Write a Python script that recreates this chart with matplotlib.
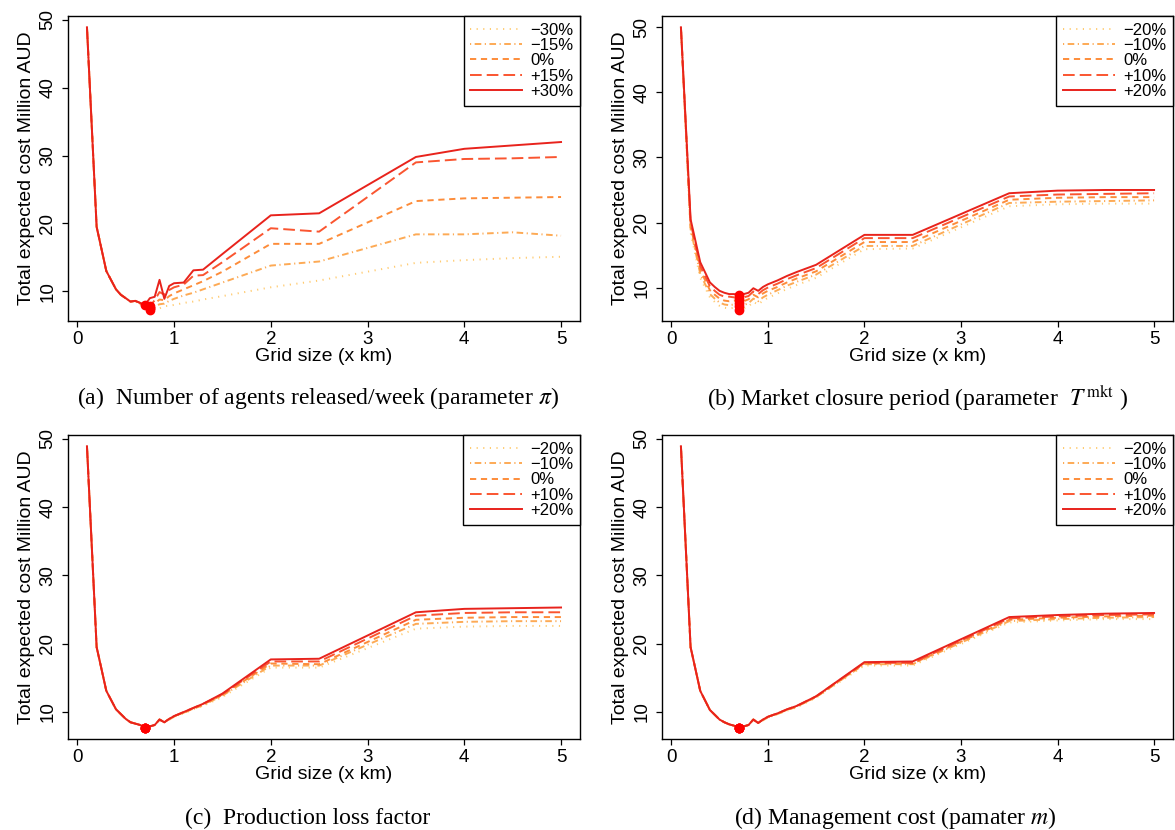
import numpy as np
import matplotlib.pyplot as plt

plt.rcParams['font.family'] = ['Liberation Sans', 'DejaVu Sans']
plt.rcParams['mathtext.fontset'] = 'stix'

## grid sizes (km) used for every panel
grid = [0.1, 0.2, 0.3, 0.4, 0.45, 0.5, 0.55, 0.6, 0.65, 0.7, 0.75, 0.8, 0.85,
        0.9, 0.95, 1.0, 1.1, 1.2, 1.3, 1.5, 2.0, 2.5, 3.5, 4.0, 4.5, 5.0]

## (a) agents released / week
labels_a = ['\u221230%', '\u221215%', '0%', '+15%', '+30%']
a_m30 = [48.9, 19.5, 13.0, 10.3, 9.5, 9.0, 8.5, 8.6, 8.0, 7.4, 7.3, 7.4, 7.5,
         7.8, 7.9, 8.0, 8.3, 8.5, 8.8, 9.3, 10.6, 11.6, 14.2, 14.6, 14.9, 15.1]
a_m15 = [48.9, 19.5, 13.0, 10.3, 9.5, 9.0, 8.5, 8.6, 8.1, 7.7, 7.5, 7.8, 8.1,
         8.2, 8.6, 8.9, 9.4, 9.8, 10.3, 11.3, 13.8, 14.4, 18.4, 18.4, 18.7, 18.2]
a_0 = [48.9, 19.5, 13.0, 10.3, 9.5, 9.0, 8.5, 8.6, 8.2, 7.8, 7.6, 8.2, 8.8,
       8.7, 9.3, 9.7, 10.3, 10.9, 11.5, 12.9, 17.0, 17.0, 23.3, 23.7, 23.8, 23.9]
a_p15 = [48.9, 19.5, 13.0, 10.3, 9.5, 9.0, 8.5, 8.6, 8.3, 7.9, 7.8, 8.7, 9.9,
         9.5, 10.2, 10.6, 11.0, 12.3, 12.4, 14.3, 19.3, 18.8, 29.0, 29.5, 29.6, 29.8]
a_p30 = [48.9, 19.5, 13.0, 10.3, 9.5, 9.0, 8.5, 8.6, 8.3, 8.0, 9.0, 9.2, 11.7,
         8.9, 10.8, 11.2, 11.3, 13.1, 13.2, 15.5, 21.2, 21.5, 29.8, 31.0, 31.5, 32.0]

## (b) market closure period
labels_b = ['\u221220%', '\u221210%', '0%', '+10%', '+20%']
b_m20 = [49.8, 18.5, 11.5, 8.5, 7.8, 7.2, 6.9, 6.8, 6.9, 6.6, 6.8, 7.1, 7.8,
         7.4, 8.0, 8.4, 9.1, 9.8, 10.4, 11.5, 15.9, 16.0, 22.5, 22.8, 22.9, 22.9]
b_m10 = [50.0, 19.0, 12.1, 9.0, 8.3, 7.7, 7.4, 7.3, 7.4, 7.1, 7.3, 7.6, 8.3,
         7.9, 8.5, 8.9, 9.6, 10.3, 10.9, 12.0, 16.4, 16.4, 23.0, 23.2, 23.3, 23.4]
b_0 = [50.0, 19.5, 12.7, 9.6, 8.9, 8.3, 8.0, 7.9, 8.0, 7.7, 7.9, 8.2, 8.9,
       8.5, 9.1, 9.5, 10.1, 10.8, 11.4, 12.5, 17.0, 17.0, 23.5, 23.8, 23.9, 23.9]
b_p10 = [50.0, 20.0, 13.3, 10.2, 9.5, 8.9, 8.6, 8.6, 8.5, 8.3, 8.5, 8.7, 9.4,
         9.0, 9.6, 10.0, 10.6, 11.3, 11.9, 13.0, 17.6, 17.6, 24.0, 24.3, 24.4, 24.5]
b_p20 = [50.0, 20.5, 13.9, 10.8, 10.1, 9.5, 9.2, 9.0, 9.0, 8.9, 9.0, 9.2, 9.9,
         9.5, 10.1, 10.5, 11.1, 11.8, 12.4, 13.5, 18.1, 18.1, 24.5, 24.9, 25.0, 25.0]

## (c) production loss factor
labels_c = labels_b
c_m20 = [48.9, 19.5, 13.1, 10.4, 9.7, 9.0, 8.5, 8.3, 8.1, 7.7, 7.9, 8.1, 8.9,
         8.5, 8.9, 9.3, 9.8, 10.4, 10.9, 12.2, 16.5, 16.5, 22.2, 22.5, 22.6, 22.6]
c_m10 = [48.9, 19.5, 13.1, 10.4, 9.7, 9.0, 8.5, 8.3, 8.1, 7.7, 7.9, 8.1, 8.9,
         8.5, 8.9, 9.3, 9.9, 10.5, 11.0, 12.4, 16.8, 16.8, 22.9, 23.2, 23.3, 23.3]
c_0 = [48.9, 19.5, 13.1, 10.4, 9.7, 9.0, 8.5, 8.3, 8.1, 7.7, 7.9, 8.1, 8.9,
       8.5, 9.0, 9.4, 9.9, 10.5, 11.1, 12.5, 17.1, 17.0, 23.5, 23.8, 23.9, 23.9]
c_p10 = [48.9, 19.5, 13.1, 10.4, 9.7, 9.0, 8.5, 8.3, 8.1, 7.7, 7.9, 8.1, 8.9,
         8.5, 9.0, 9.4, 10.0, 10.6, 11.2, 12.6, 17.4, 17.4, 24.1, 24.5, 24.6, 24.6]
c_p20 = [48.9, 19.5, 13.1, 10.4, 9.7, 9.0, 8.5, 8.3, 8.1, 7.7, 7.9, 8.1, 8.9,
         8.5, 9.0, 9.4, 10.0, 10.6, 11.2, 12.7, 17.7, 17.8, 24.6, 25.1, 25.2, 25.3]

## (d) management cost
labels_d = labels_b
d_m20 = [48.9, 19.5, 13.1, 10.3, 9.6, 8.9, 8.5, 8.2, 8.0, 7.7, 7.9, 8.1, 8.9,
         8.4, 8.8, 9.2, 9.7, 10.2, 10.7, 12.1, 16.8, 16.8, 23.1, 23.4, 23.6, 23.6]
d_m10 = [48.9, 19.5, 13.1, 10.3, 9.6, 8.9, 8.5, 8.2, 8.0, 7.7, 7.9, 8.1, 8.9,
         8.4, 8.8, 9.2, 9.7, 10.3, 10.8, 12.2, 17.0, 17.0, 23.3, 23.6, 23.8, 23.9]
d_0 = [48.9, 19.5, 13.1, 10.3, 9.6, 8.9, 8.5, 8.2, 8.0, 7.7, 7.9, 8.1, 8.9,
       8.4, 8.9, 9.3, 9.8, 10.3, 10.8, 12.2, 17.1, 17.1, 23.5, 23.8, 24.0, 24.1]
d_p10 = [48.9, 19.5, 13.1, 10.3, 9.6, 8.9, 8.5, 8.2, 8.0, 7.7, 7.9, 8.1, 8.9,
         8.4, 8.9, 9.3, 9.8, 10.4, 10.9, 12.3, 17.2, 17.2, 23.7, 24.0, 24.2, 24.3]
d_p20 = [48.9, 19.5, 13.1, 10.3, 9.6, 8.9, 8.5, 8.2, 8.0, 7.7, 7.9, 8.1, 8.9,
         8.4, 8.9, 9.3, 9.8, 10.4, 10.9, 12.3, 17.3, 17.4, 23.9, 24.2, 24.4, 24.5]

captions = ['(a)  Number of agents released/week (parameter $\\pi$)',
            '(b) Market closure period (parameter  $T^{\\,\\mathrm{mkt}}$ )',
            '(c)  Production loss factor',
            '(d) Management cost (pamater $m$)']

## line look, lightest -> red
colors = ['#FFCB70', '#FDAA55', '#FD8C3A', '#FA5530', '#E8231C']
styles = [(0, (0.6, 2.8)), (0, (0.6, 1.8, 3.4, 1.8)), (0, (3.2, 2.4)),
          (0, (6.0, 2.6)), '-']

panels = [([a_m30, a_m15, a_0, a_p15, a_p30], labels_a),
          ([b_m20, b_m10, b_0, b_p10, b_p20], labels_b),
          ([c_m20, c_m10, c_0, c_p10, c_p20], labels_c),
          ([d_m20, d_m10, d_0, d_p10, d_p20], labels_d)]

W, H = 1175, 830
fig = plt.figure(figsize=(W / 100, H / 100), dpi=100)
boxes = [(68, 16, 580, 321), (662, 16, 1173, 321),
         (68, 435, 580, 739), (662, 435, 1173, 739)]
cap_pos = [(318, 398), (918, 398), (308, 818), (895, 818)]

for k, (series, labs) in enumerate(panels):
    l, t, r, b = boxes[k]
    ax = fig.add_axes([l / W, 1 - b / H, (r - l) / W, (b - t) / H])
    for s, lab, c, ls in zip(series, labs, colors, styles):
        ax.plot(grid, s, color=c, linestyle=ls, lw=1.4, label=lab)
    ## red dot at the minimum of each curve
    for s in series:
        i = int(np.argmin(s))
        ax.plot(grid[i], s[i], 'o', color='red', ms=6, zorder=5)
    ax.margins(x=0.04, y=0.04)
    ax.set_xticks([0, 1, 2, 3, 4, 5])
    ax.set_yticks([10, 20, 30, 40, 50])
    ax.tick_params(direction='out', length=4.5, width=0.9, labelsize=13.5, pad=3)
    ax.tick_params(axis='y', labelrotation=90, pad=4)
    for lb in ax.get_yticklabels():
        lb.set_va('center')
    for sp in ax.spines.values():
        sp.set_linewidth(1.0)
    ax.set_xlabel('Grid size (x km)', fontsize=14, labelpad=0)
    ax.set_ylabel('Total expected cost Million AUD', fontsize=14, labelpad=3)
    leg = ax.legend(loc='upper right', borderaxespad=0, fancybox=False,
                    edgecolor='black', framealpha=1, fontsize=12,
                    labelspacing=0.02, handlelength=3.1, handletextpad=0.5,
                    borderpad=0.4)
    leg.get_frame().set_linewidth(1.0)
    cx, cy = cap_pos[k]
    fig.text(cx / W, 1 - cy / H, captions[k], ha='center', va='center',
             fontsize=17, family='Liberation Serif')

fig.savefig('out.png', dpi=100)
